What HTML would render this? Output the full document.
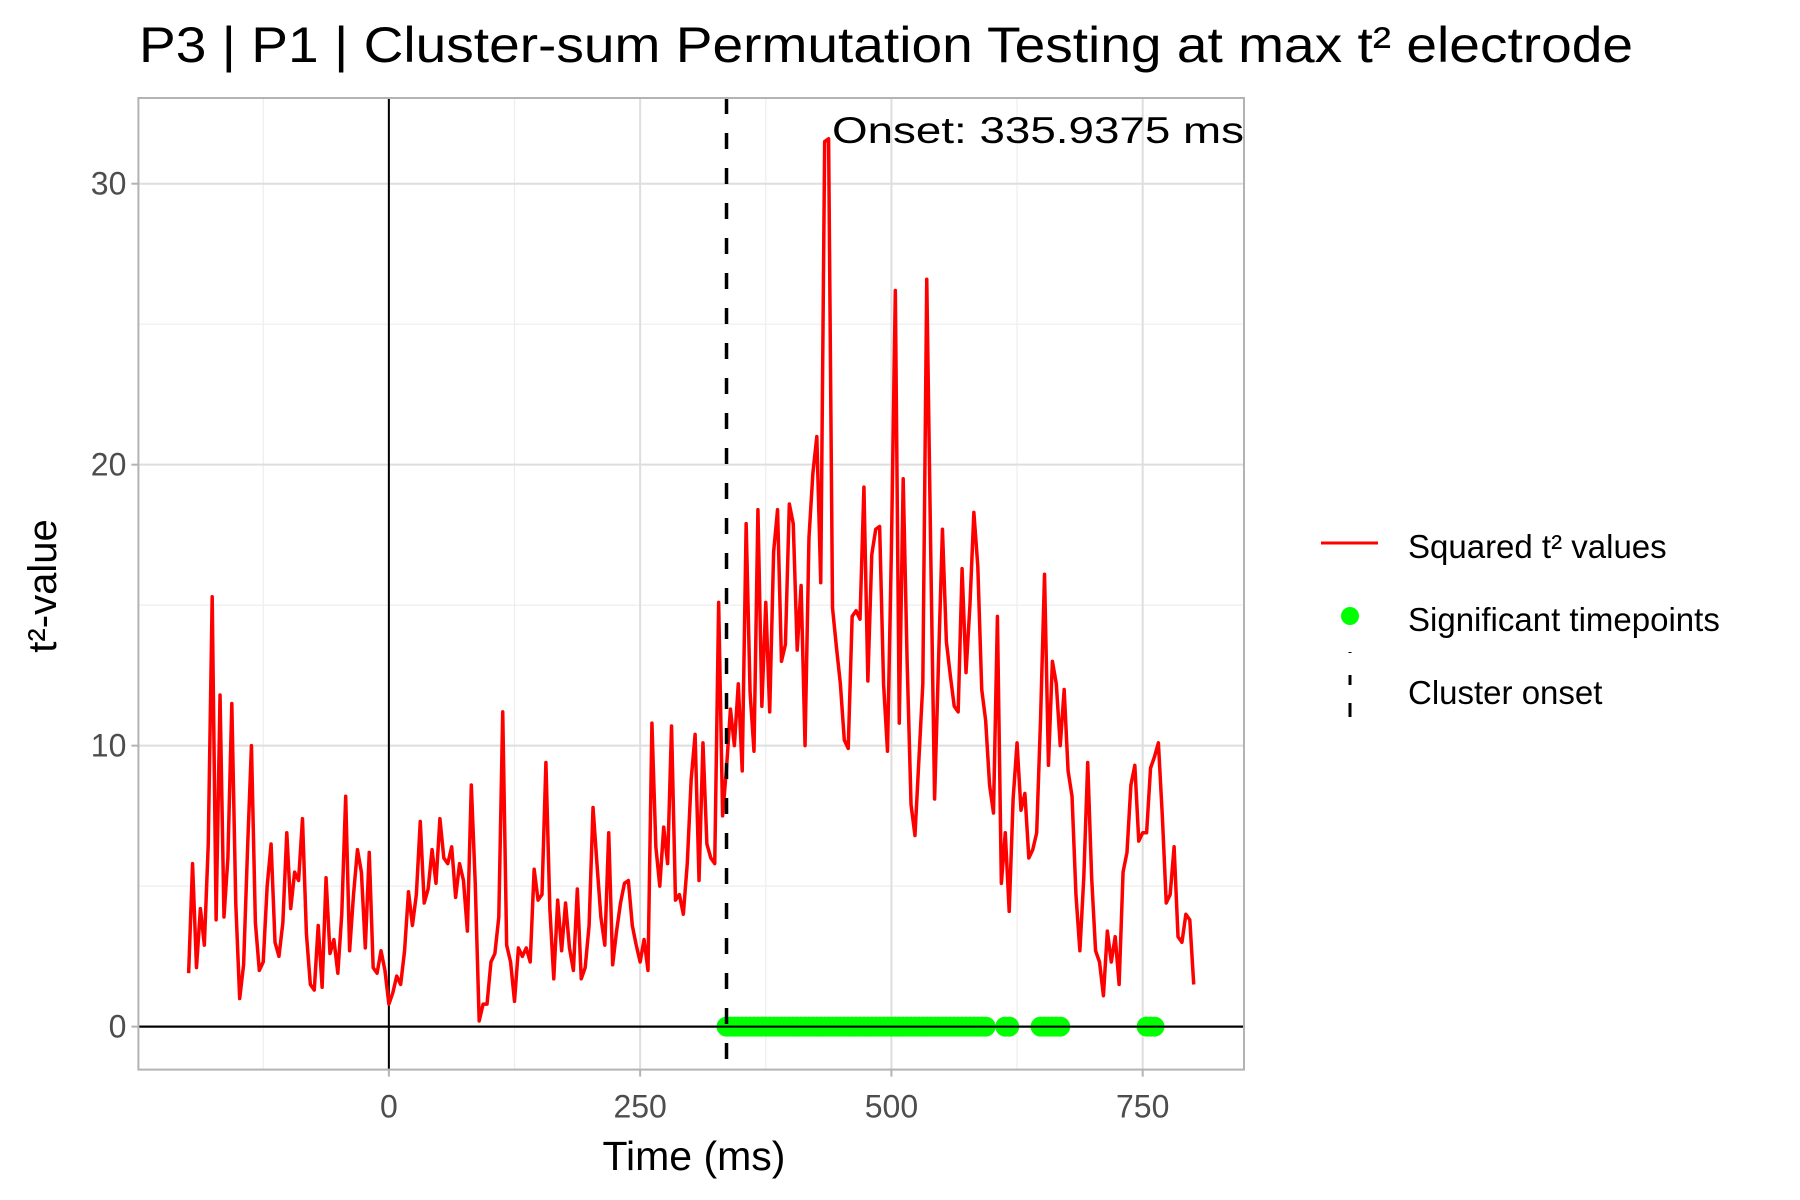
<!DOCTYPE html>
<html><head><meta charset="utf-8"><style>
html,body{margin:0;padding:0;background:#fff;}
svg{display:block;font-family:"Liberation Sans",sans-serif;}
</style></head><body>
<svg id="chart" width="1800" height="1200" viewBox="0 0 1800 1200">
<text x="139" y="62" font-size="50" fill="#000" textLength="1494" lengthAdjust="spacingAndGlyphs">P3 | P1 | Cluster-sum Permutation Testing at max t² electrode</text>
<rect x="138.4" y="98" width="1105.6" height="971.6" fill="#fff"/>
<g id="grid"></g>
<g id="marks"></g>
<rect x="138.4" y="98" width="1105.6" height="971.6" fill="none" stroke="#b3b3b3" stroke-width="2"/>
<g id="axes"></g>
<text x="694" y="1170" font-size="41" text-anchor="middle" fill="#000">Time (ms)</text>
<text x="0" y="0" font-size="40" text-anchor="middle" fill="#000" transform="translate(56,586) rotate(-90)">t²-value</text>
<text x="832" y="143" font-size="37" fill="#000" textLength="412" lengthAdjust="spacingAndGlyphs">Onset: 335.9375 ms</text>
<g>
<g>
<line x1="1321" y1="543" x2="1378" y2="543" stroke="#ff0000" stroke-width="3"/>
<text x="1408" y="558" font-size="33" fill="#000">Squared t² values</text>
</g>
<g>
<circle cx="1350" cy="616" r="9" fill="#00ff00"/>
<text x="1408" y="631" font-size="33" fill="#000">Significant timepoints</text>
</g>
<g>
<line x1="1350" y1="652" x2="1350" y2="726" stroke="#000" stroke-width="3" stroke-dasharray="1 22 10 18 14 60"/>
<text x="1408" y="704" font-size="33" fill="#000">Cluster onset</text>
</g>
</g>
</svg>
<script>
const startTime = -199.21875;
const stepMs = 3.90625;
const tValues = [1.9,5.8,2.1,4.2,2.9,6.5,15.3,3.8,11.8,3.9,6.0,11.5,4.4,1.0,2.2,6.3,10.0,3.7,2.0,2.3,5.0,6.5,3.0,2.5,3.7,6.9,4.2,5.5,5.2,7.4,3.3,1.5,1.3,3.6,1.4,5.3,2.6,3.1,1.9,4.0,8.2,2.7,4.7,6.3,5.5,2.8,6.2,2.1,1.9,2.7,2.0,0.8,1.2,1.8,1.5,2.7,4.8,3.6,4.7,7.3,4.4,4.9,6.3,5.1,7.4,
6.0,5.8,6.4,4.6,5.8,5.2,3.4,8.6,5.1,0.2,0.8,0.8,2.3,2.6,3.9,11.2,2.9,2.3,0.9,2.8,2.5,2.8,2.3,5.6,4.5,4.7,9.4,4.2,1.7,4.5,2.7,4.4,2.8,2.0,4.9,1.7,2.1,3.6,7.8,5.8,3.9,2.9,6.9,2.2,3.4,4.4,5.1,5.2,3.6,2.9,2.3,3.1,2.0,10.8,6.4,5.0,7.1,5.8,10.7,4.5,4.7,4.0,5.8,8.8,10.4,5.2,10.1,
6.5,6.0,5.8,15.1,7.5,9.2,11.3,10.0,12.2,9.1,17.9,11.9,9.8,18.4,11.4,15.1,11.2,16.9,18.4,13.0,13.6,18.6,17.9,13.4,15.7,10.0,17.4,19.7,21.0,15.8,31.5,31.6,14.9,13.5,12.2,10.2,9.9,14.6,14.8,14.5,19.2,12.3,16.8,17.7,17.8,12.2,9.8,17.0,26.2,10.8,19.5,13.0,7.9,6.8,9.5,12.2,26.6,17.0,8.1,13.0,17.7,13.7,12.5,11.4,11.2,16.3,12.6,
15.0,18.3,16.4,12.0,10.9,8.6,7.6,14.6,5.1,6.9,4.1,8.1,10.1,7.7,8.3,6.0,6.3,6.9,11.0,16.1,9.3,13.0,12.2,10.0,12.0,9.1,8.2,4.7,2.7,5.3,9.4,5.3,2.7,2.3,1.1,3.4,2.3,3.2,1.5,5.5,6.2,8.6,9.3,6.6,6.9,6.9,9.2,9.6,10.1,7.5,4.4,4.7,6.4,3.2,3.0,4.0,3.8,1.5];
const sigStart = [335, 612, 647, 753];
const sigEnd = [594, 619, 668, 763];
const onsetMs = 335.9375;
const xTicks = [0, 250, 500, 750];
const xMinor = [-125, 125, 375, 625];
const yTicks = [0, 10, 20, 30];
const yMinor = [5, 15, 25];

const NS = "http://www.w3.org/2000/svg";
const PL = 138.4, PR = 1244, PT = 98, PB = 1069.6;
const X0 = -249.2, X1 = 850.8, Y0 = -1.53, Y1 = 33.05;
function xs(t){ return PL + (t - X0) / (X1 - X0) * (PR - PL); }
function ys(v){ return PB - (v - Y0) / (Y1 - Y0) * (PB - PT); }
function mk(tag, attrs, parent){ const e = document.createElementNS(NS, tag); for (const k in attrs) e.setAttribute(k, attrs[k]); parent.appendChild(e); return e; }

const grid = document.getElementById('grid');
const marks = document.getElementById('marks');
const axes = document.getElementById('axes');

yMinor.forEach(v => { const l = mk('line', {x1:PL, x2:PR, y1:ys(v), y2:ys(v), stroke:'#ededed', 'stroke-width':1.2}, grid);

 });
xMinor.forEach(v => { const l = mk('line', {x1:xs(v), x2:xs(v), y1:PT, y2:PB, stroke:'#ededed', 'stroke-width':1.2}, grid);

 });
yTicks.forEach(v => { const l = mk('line', {x1:PL, x2:PR, y1:ys(v), y2:ys(v), stroke:'#dedede', 'stroke-width':2}, grid);


const tk = mk('line', {x1:PL-7, x2:PL, y1:ys(v), y2:ys(v), stroke:'#b3b3b3', 'stroke-width':2}, axes);


const tx = mk('text', {x:PL-12, y:ys(v)+11, 'font-size':32, 'text-anchor':'end', fill:'#4d4d4d'}, axes);
tx.textContent = v;

 });
xTicks.forEach(v => { const l = mk('line', {x1:xs(v), x2:xs(v), y1:PT, y2:PB, stroke:'#dedede', 'stroke-width':2}, grid);


const tk = mk('line', {x1:xs(v), x2:xs(v), y1:PB, y2:PB+7, stroke:'#b3b3b3', 'stroke-width':2}, axes);


const tx = mk('text', {x:xs(v), y:PB+48, 'font-size':32, 'text-anchor':'middle', fill:'#4d4d4d'}, axes);
tx.textContent = v;

 });

const hl = mk('line', {x1:PL, x2:PR, y1:ys(0), y2:ys(0), stroke:'#000', 'stroke-width':2}, marks);


const vl = mk('line', {x1:xs(0), x2:xs(0), y1:PT, y2:PB, stroke:'#000', 'stroke-width':2}, marks);



const pts = tValues.map((v, i) => xs(startTime + i*stepMs).toFixed(2) + ',' + ys(v).toFixed(2)).join(' ');
const line = mk('polyline', {points:pts, fill:'none', stroke:'#ff0000', 'stroke-width':3.5, 'stroke-linejoin':'round'}, marks);



tValues.forEach((v, i) => {
  const t = startTime + i*stepMs;
  let sig = false;
  for (let k = 0; k < sigStart.length; k++) if (t >= sigStart[k] && t <= sigEnd[k]) sig = true;
  if (sig) { const c = mk('circle', {cx:xs(t), cy:ys(0), r:10, fill:'#00ff00'}, marks);
    
     }
});
const hl2 = mk('line', {x1:PL, x2:PR, y1:ys(0), y2:ys(0), stroke:'#000', 'stroke-width':2}, marks);


const ol = mk('line', {x1:xs(onsetMs), x2:xs(onsetMs), y1:PT, y2:PB, stroke:'#000', 'stroke-width':3.5, 'stroke-dasharray':'16 19'}, marks);


</script>
</body></html>
